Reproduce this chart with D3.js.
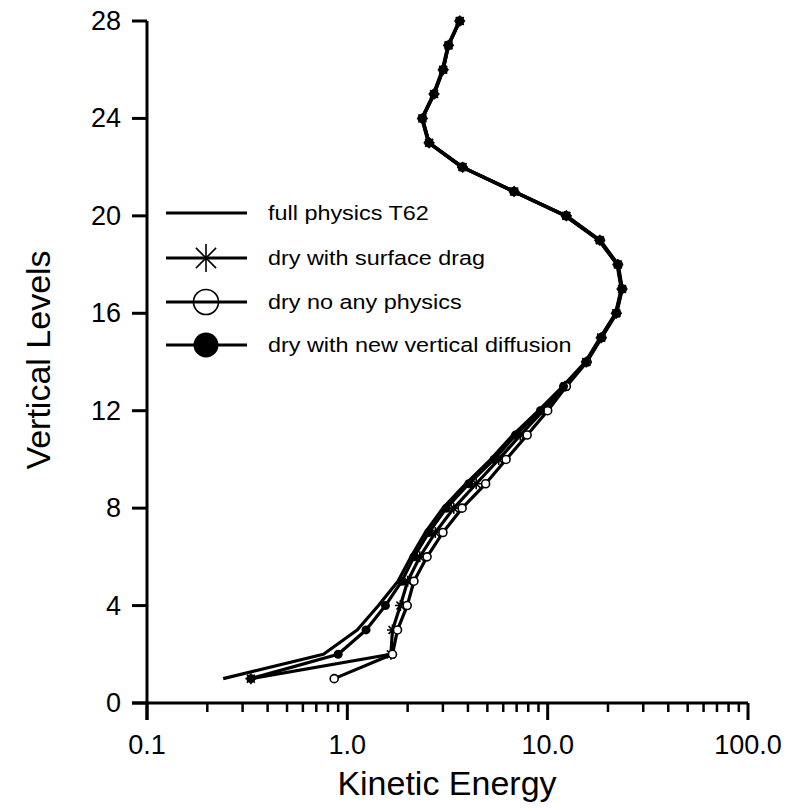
<!DOCTYPE html>
<html>
<head>
<meta charset="utf-8">
<script src="https://cdn.jsdelivr.net/npm/d3@7/dist/d3.min.js"></script>
<style>
    body { margin: 0; background: #fff; }
    text { font-family: "Liberation Sans", Arial, sans-serif; fill: #000; }
</style>
</head>
<body>
<div id="chart"><svg></svg></div>
<script>
// vertical model levels 1..28
var levels = d3.range(1, 29);

// kinetic energy per level
var fullPhysics = [0.24, 0.76, 1.12, 1.43, 1.79, 2.08, 2.45, 3.0, 3.9, 5.2, 6.7, 9.0, 11.9, 15.4,
    18.3, 21.8, 23.3, 22.2, 18.0, 12.2, 6.75, 3.72, 2.54, 2.35, 2.69, 2.98, 3.18, 3.62];
var dryDrag = [0.33, 1.65, 1.68, 1.84, 2.0, 2.3, 2.75, 3.4, 4.4, 5.7, 7.3, 9.5, 12.2, 15.6,
    18.5, 22.0, 23.5, 22.4, 18.2, 12.4, 6.8, 3.76, 2.56, 2.37, 2.71, 3.01, 3.2, 3.64];
var dryNoPhysics = [0.86, 1.68, 1.78, 1.99, 2.15, 2.5, 3.0, 3.74, 4.9, 6.2, 7.9, 10.0, 12.4, 15.7,
    18.6, 22.1, 23.6, 22.5, 18.3, 12.4, 6.8, 3.76, 2.56, 2.37, 2.71, 3.01, 3.2, 3.64];
var dryNewDiff = [0.33, 0.90, 1.24, 1.55, 1.87, 2.15, 2.55, 3.12, 4.04, 5.4, 6.9, 9.2, 12.0, 15.5,
    18.4, 21.9, 23.4, 22.3, 18.1, 12.3, 6.77, 3.74, 2.55, 2.36, 2.70, 3.0, 3.19, 3.63];

var seriesNames = ["full physics T62", "dry with surface drag", "dry no any physics", "dry with new vertical diffusion"];
var seriesMarkers = ["none", "asterisk", "open", "filled"];

var xTickValues = [0.1, 1, 10, 100];
var xTickLabels = ["0.1", "1.0", "10.0", "100.0"];
var yTickValues = [0, 4, 8, 12, 16, 20, 24, 28];

var svg = d3.select("#chart svg")
    .attr("width", 787)
    .attr("height", 809);

var x = d3.scaleLog().domain([0.1, 100]).range([147, 748]);
var y = d3.scaleLinear().domain([0, 28]).range([703, 21]);

var series = [fullPhysics, dryDrag, dryNoPhysics, dryNewDiff].map(function(vals, i) {
    return {
        name: seriesNames[i],
        marker: seriesMarkers[i],
        values: vals.map(function(v, j) {
            return { level: levels[j], ke: v };
        })
    };
});

// axes, drawn by hand to get the old plotting package look
var minorTicks = [];
[0.1, 1, 10].forEach(function(dec) {
    d3.range(2, 10).forEach(function(k) { minorTicks.push(dec * k); });
});

var axes = svg.append("g").attr("class", "axes");

axes.append("line")
    .attr("x1", x(0.1) - 15).attr("x2", x(100))
    .attr("y1", y(0)).attr("y2", y(0))
    .attr("stroke", "#000").attr("stroke-width", 3);

axes.append("line")
    .attr("x1", x(0.1)).attr("x2", x(0.1))
    .attr("y1", y(28)).attr("y2", y(0) + 17)
    .attr("stroke", "#000").attr("stroke-width", 3);

axes.selectAll(".xmajor")
    .data(xTickValues)
    .enter().append("line")
    .attr("class", "xmajor")
    .attr("x1", function(d) { return x(d); })
    .attr("x2", function(d) { return x(d); })
    .attr("y1", y(0)).attr("y2", y(0) + 17)
    .attr("stroke", "#000").attr("stroke-width", 3);

axes.selectAll(".xminor")
    .data(minorTicks)
    .enter().append("line")
    .attr("class", "xminor")
    .attr("x1", function(d) { return x(d); })
    .attr("x2", function(d) { return x(d); })
    .attr("y1", y(0)).attr("y2", y(0) + 9)
    .attr("stroke", "#000").attr("stroke-width", 2.5);

axes.selectAll(".xlabel")
    .data(xTickValues)
    .enter().append("text")
    .attr("class", "xlabel")
    .attr("x", function(d) { return x(d); })
    .attr("y", y(0) + 51)
    .attr("text-anchor", "middle")
    .style("font-size", "27px")
    .text(function(d, i) { return xTickLabels[i]; });

axes.selectAll(".ymajor")
    .data(yTickValues)
    .enter().append("line")
    .attr("class", "ymajor")
    .attr("x1", x(0.1) - 15).attr("x2", x(0.1))
    .attr("y1", function(d) { return y(d); })
    .attr("y2", function(d) { return y(d); })
    .attr("stroke", "#000").attr("stroke-width", 3);

axes.selectAll(".ylabel")
    .data(yTickValues)
    .enter().append("text")
    .attr("class", "ylabel")
    .attr("x", x(0.1) - 26)
    .attr("y", function(d) { return y(d) + 9; })
    .attr("text-anchor", "end")
    .style("font-size", "27px")
    .text(function(d) { return d; });

svg.append("text")
    .attr("x", 447)
    .attr("y", 795)
    .attr("text-anchor", "middle")
    .style("font-size", "34px")
    .text("Kinetic Energy");

svg.append("text")
    .attr("transform", "translate(50,360) rotate(-90)")
    .attr("text-anchor", "middle")
    .style("font-size", "34px")
    .text("Vertical Levels");

// markers
function drawMarker(sel, type, r, fill) {
    if (type === "asterisk") {
        var a = r * 0.72;
        sel.append("path")
            .attr("d", "M0," + (-r) + "L0," + r + "M" + (-r) + ",0L" + r + ",0" +
                "M" + (-a) + "," + (-a) + "L" + a + "," + a + "M" + (-a) + "," + a + "L" + a + "," + (-a))
            .attr("stroke", "#000").attr("stroke-width", 1.6).attr("fill", "none");
    } else if (type === "open") {
        sel.append("circle").attr("r", r)
            .attr("fill", fill).attr("stroke", "#000").attr("stroke-width", 1.6);
    } else if (type === "filled") {
        sel.append("circle").attr("r", r).attr("fill", "#000");
    }
}

var line = d3.line()
    .x(function(d) { return x(d.ke); })
    .y(function(d) { return y(d.level); });

var plot = svg.append("g").attr("id", "lines-group");

plot.selectAll(".ke-line")
    .data(series)
    .enter().append("path")
    .attr("class", "ke-line")
    .attr("d", function(d) { return line(d.values); })
    .attr("fill", "none")
    .attr("stroke", "#000")
    .attr("stroke-width", 3.2)
    .attr("stroke-linejoin", "round");

series.forEach(function(s) {
    if (s.marker === "none") return;
    var r = s.marker === "asterisk" ? 5.5 : (s.marker === "open" ? 4 : 4.5);
    plot.selectAll(".pt-" + s.marker)
        .data(s.values)
        .enter().append("g")
        .attr("class", "pt-" + s.marker)
        .attr("transform", function(d) { return "translate(" + x(d.ke) + "," + y(d.level) + ")"; })
        .each(function() { drawMarker(d3.select(this), s.marker, r, "#fff"); });
});

// legend
var legendY = [213, 258, 302, 345];
var legend = svg.append("g").attr("class", "legend");

var rows = legend.selectAll(".legend-row")
    .data(series)
    .enter().append("g")
    .attr("class", "legend-row")
    .attr("transform", function(d, i) { return "translate(0," + legendY[i] + ")"; });

rows.append("line")
    .attr("x1", 166).attr("x2", 247)
    .attr("y1", 0).attr("y2", 0)
    .attr("stroke", "#000").attr("stroke-width", 3);

rows.each(function(d) {
    var m = d3.select(this).append("g").attr("transform", "translate(206,0)");
    var r = d.marker === "asterisk" ? 14 : 12.5;
    drawMarker(m, d.marker, r, "none");
});

rows.append("text")
    .attr("transform", "translate(268,7) scale(1.2,1)")
    .style("font-size", "19.5px")
    .text(function(d) { return d.name; });
</script>
</body>
</html>
